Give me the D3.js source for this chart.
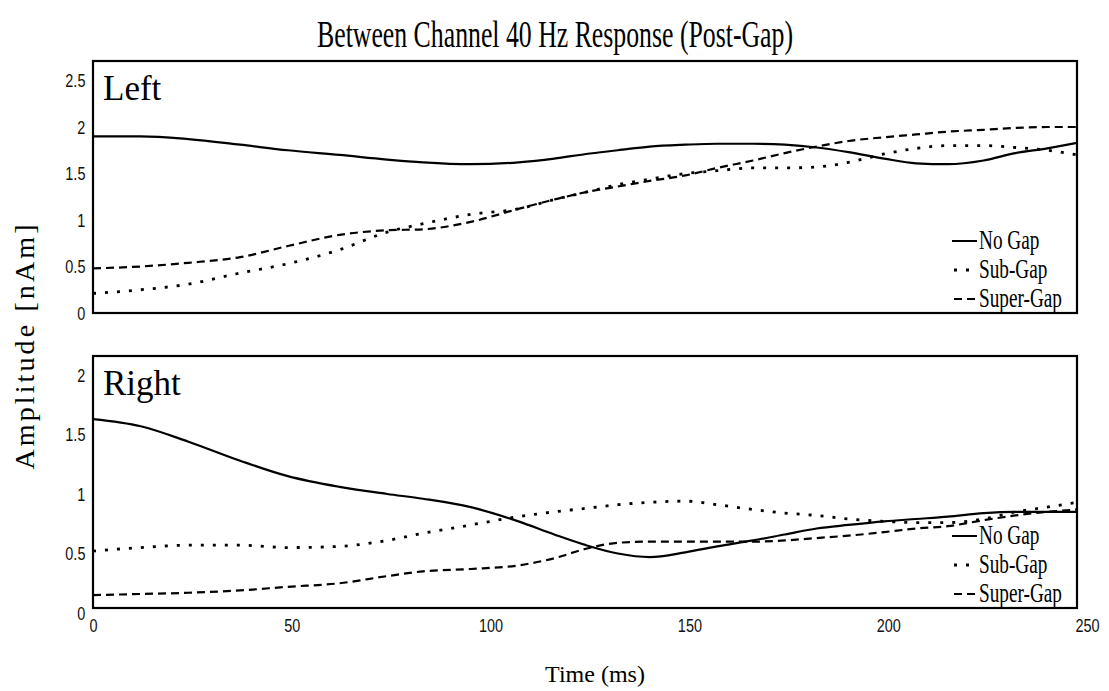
<!DOCTYPE html>
<html>
<head>
<meta charset="utf-8">
<script src="https://cdn.jsdelivr.net/npm/d3@7"></script>
<style>
  body { margin: 0; background: #fff; }
  svg { display: block; }
</style>
</head>
<body>
<script>
// time samples (ms) shared by all series
const times = [0, 12, 24, 37, 49, 62, 74, 83, 95, 107, 116, 124, 132, 140, 149, 157, 166, 174, 182, 190, 199, 207, 215, 224, 232, 240, 247.5];

// Left hemisphere
const leftNoGap    = [1.90, 1.90, 1.87, 1.81, 1.75, 1.70, 1.65, 1.62, 1.60, 1.62, 1.66, 1.71, 1.75, 1.79, 1.81, 1.82, 1.82, 1.81, 1.78, 1.73, 1.66, 1.61, 1.60, 1.64, 1.72, 1.77, 1.83];
const leftSubGap   = [0.21, 0.25, 0.31, 0.43, 0.53, 0.68, 0.87, 0.96, 1.06, 1.12, 1.22, 1.30, 1.38, 1.44, 1.50, 1.53, 1.56, 1.56, 1.57, 1.62, 1.71, 1.77, 1.80, 1.80, 1.78, 1.75, 1.70];
const leftSuperGap = [0.48, 0.50, 0.54, 0.60, 0.72, 0.84, 0.89, 0.90, 0.98, 1.12, 1.22, 1.30, 1.36, 1.42, 1.48, 1.56, 1.64, 1.72, 1.79, 1.85, 1.89, 1.92, 1.95, 1.97, 1.99, 2.00, 2.00];

// Right hemisphere
const rightNoGap    = [1.63, 1.57, 1.44, 1.28, 1.15, 1.06, 1.00, 0.96, 0.89, 0.77, 0.66, 0.57, 0.50, 0.47, 0.51, 0.56, 0.61, 0.66, 0.71, 0.74, 0.77, 0.79, 0.81, 0.84, 0.85, 0.85, 0.85];
const rightSubGap   = [0.52, 0.55, 0.57, 0.57, 0.55, 0.56, 0.61, 0.67, 0.74, 0.81, 0.85, 0.88, 0.91, 0.93, 0.94, 0.91, 0.87, 0.84, 0.82, 0.79, 0.77, 0.76, 0.76, 0.79, 0.85, 0.89, 0.93];
const rightSuperGap = [0.15, 0.16, 0.17, 0.19, 0.22, 0.25, 0.31, 0.35, 0.37, 0.40, 0.46, 0.54, 0.59, 0.60, 0.60, 0.60, 0.60, 0.61, 0.63, 0.65, 0.68, 0.71, 0.73, 0.78, 0.82, 0.85, 0.87];

const seriesNames = ['No Gap', 'Sub-Gap', 'Super-Gap'];
const leftTicks = [0, 0.5, 1, 1.5, 2, 2.5];
const rightTicks = [0, 0.5, 1, 1.5, 2];
const xTicks = [0, 50, 100, 150, 200, 250];

const width = 1109;
const height = 691;
const frameLeft = 93;
const frameRight = 1077;

const dashes = {
  'No Gap': null,
  'Sub-Gap': '3,9',
  'Super-Gap': '8,5'
};

const svg = d3.select('body')
  .append('svg')
    .attr('width', width)
    .attr('height', height);

const x = d3.scaleLinear().domain([0, 250]).range([93, 1087]);

const panels = [
  {id: 'left', label: 'Left', top: 61, bottom: 313, domain: [0, 2.71], ticks: leftTicks,
   series: [leftNoGap, leftSubGap, leftSuperGap]},
  {id: 'right', label: 'Right', top: 356, bottom: 608, domain: [0.042, 2.16], ticks: rightTicks,
   series: [rightNoGap, rightSubGap, rightSuperGap]}
];

const line = (y) => d3.line()
  .x((d) => x(d[0]))
  .y((d) => y(d[1]))
  .curve(d3.curveMonotoneX);

panels.forEach((p) => {
  const y = d3.scaleLinear().domain(p.domain).range([p.bottom, p.top]);
  const g = svg.append('g').attr('class', 'panel-' + p.id);

  svg.append('clipPath')
      .attr('id', 'clip-' + p.id)
    .append('rect')
      .attr('x', frameLeft)
      .attr('y', p.top)
      .attr('width', frameRight - frameLeft)
      .attr('height', p.bottom - p.top);

  // y axis labels only, no ticks
  const yAxis = g.append('g')
      .attr('transform', `translate(${frameLeft},0)`)
      .call(d3.axisLeft(y).tickValues(p.ticks).tickSize(0).tickPadding(10).tickFormat((d) => String(d)));
  yAxis.select('.domain').remove();
  yAxis.selectAll('text')
      .attr('font-family', 'Liberation Sans, Arial, sans-serif')
      .attr('font-size', 19)
      .attr('fill', '#111')
      .attr('transform', 'scale(0.76,1)');

  const lines = g.append('g').attr('clip-path', `url(#clip-${p.id})`);
  p.series.forEach((vals, i) => {
    const pts = times.map((t, j) => [t, vals[j]]);
    lines.append('path')
        .datum(pts)
        .attr('fill', 'none')
        .attr('stroke', '#000')
        .attr('stroke-width', i === 1 ? 2.8 : 2.2)
        .attr('stroke-dasharray', dashes[seriesNames[i]])
        .attr('d', line(y));
  });

  g.append('rect')
      .attr('x', frameLeft)
      .attr('y', p.top)
      .attr('width', frameRight - frameLeft)
      .attr('height', p.bottom - p.top)
      .attr('fill', 'none')
      .attr('stroke', '#000')
      .attr('stroke-width', 2.2);

  g.append('text')
      .attr('x', 103)
      .attr('y', p.top + 39)
      .attr('font-family', 'Liberation Serif, serif')
      .attr('font-size', 35)
      .text(p.label);

  // legend
  const leg = g.append('g');
  seriesNames.forEach((name, i) => {
    const ly = p.bottom - 72 + i * 29;
    leg.append('line')
        .attr('x1', name === 'No Gap' ? 952 : 954)
        .attr('x2', 977)
        .attr('y1', ly)
        .attr('y2', ly)
        .attr('stroke', '#000')
        .attr('stroke-width', i === 1 ? 2.8 : 2)
        .attr('stroke-dasharray', dashes[name]);
    leg.append('text')
        .attr('transform', `translate(979,${ly + 8}) scale(0.7,1)`)
        .attr('font-family', 'Liberation Serif, serif')
        .attr('font-size', 27.5)
        .text(name);
  });

  if (p.id === 'right') {
    const xAxis = g.append('g')
        .attr('transform', `translate(0,${p.bottom})`)
        .call(d3.axisBottom(x).tickValues(xTicks).tickSize(0).tickFormat((d) => String(d)));
    xAxis.select('.domain').remove();
    xAxis.selectAll('text')
        .attr('y', 24)
        .attr('dy', 0)
        .attr('font-family', 'Liberation Sans, Arial, sans-serif')
        .attr('font-size', 19)
        .attr('fill', '#111')
        .attr('transform', 'scale(0.76,1)');
  }
});

svg.append('text')
    .attr('x', 555)
    .attr('y', 47)
    .attr('text-anchor', 'middle')
    .attr('font-family', 'Liberation Serif, serif')
    .attr('font-size', 38)
    .attr('textLength', 476)
    .attr('lengthAdjust', 'spacingAndGlyphs')
    .text('Between Channel 40 Hz Response (Post-Gap)');

svg.append('text')
    .attr('x', 595)
    .attr('y', 682)
    .attr('text-anchor', 'middle')
    .attr('font-family', 'Liberation Serif, serif')
    .attr('font-size', 24)
    .text('Time (ms)');

svg.append('text')
    .attr('transform', 'translate(34,347) rotate(-90)')
    .attr('text-anchor', 'middle')
    .attr('font-family', 'Liberation Serif, serif')
    .attr('font-size', 28)
    .attr('textLength', 245)
    .attr('lengthAdjust', 'spacing')
    .text('Amplitude [nAm]');
</script>
</body>
</html>
